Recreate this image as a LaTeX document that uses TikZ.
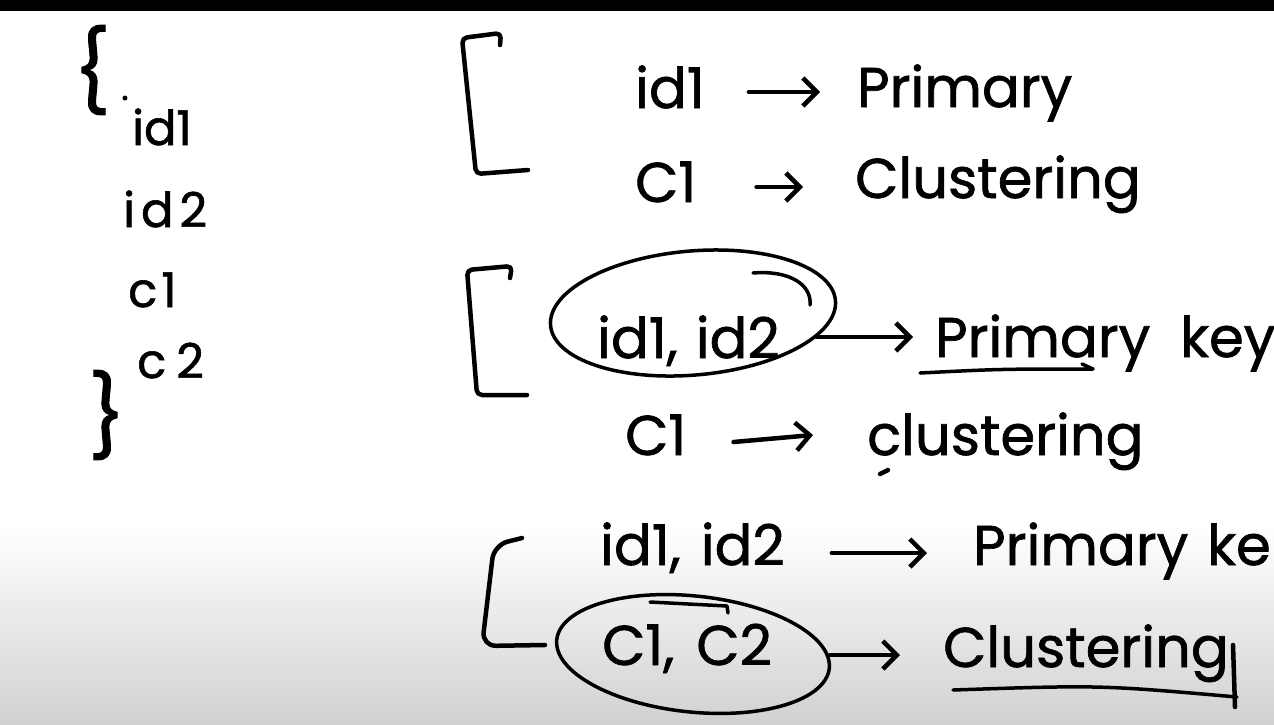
\documentclass[tikz,border=0pt]{standalone}
\usepackage{fontspec}
\setmainfont{Poppins}[FakeBold=1.2]
\usetikzlibrary{arrows.meta}
\begin{document}
\begin{tikzpicture}[x=1pt,y=-1pt,
  pen/.style={line width=4.5pt, line cap=round, line join=round},
  loop/.style={line width=3.5pt, line cap=round, line join=round},
  txt/.style={inner sep=0pt, anchor=base west, font=\fontsize{56}{60}\selectfont},
  lefttxt/.style={inner sep=0pt, anchor=base west, font=\fontsize{48}{50}\selectfont},
  bracetxt/.style={inner sep=0pt, anchor=center, font=\fontsize{80}{84}\selectfont},
  harrow/.style={pen, -{Straight Barb[length=14pt,width=28pt,line width=4.5pt]}},
]
\fill[white] (0,0) rectangle (1274,724);
\useasboundingbox (0,0) rectangle (1274,724);
\fill[black] (0,0) rectangle (1274,11);
\shade[top color=white,bottom color=black!18] (0,527) rectangle (1274,724);

% left column
\node[bracetxt] (lb) at (92,70) {\{};
\fill (125,98) circle (2.5);
\node[lefttxt] (l1) at (132,145) {id1};
\node[lefttxt] (l2) at (123,227) {i\kern6pt d\kern6pt 2};
\node[lefttxt] (l3) at (128,307) {c\kern4pt 1};
\node[lefttxt] (l4) at (137,378) {c\kern10pt 2};
\node[bracetxt] (rb) at (107,415) {\}};

% block 1
\draw[pen, rounded corners=5pt] (500,45) -- (501,33) -- (462,38) -- (476,174) -- (528,170);
\node[txt] (r1a) at (635,108) {id1};
\node[txt] (r1b) at (857,107) {Primary};
\node[txt] (r2a) at (635,202) {C1};
\node[txt] (r2b) at (855,198) {Clustering};
\draw[harrow] ([xshift=44pt,yshift=16pt]r1a.base east) -- ([xshift=-37pt,yshift=15pt]r1b.base west);
\draw[harrow] ([xshift=60pt,yshift=15pt]r2a.base east) -- ([xshift=-52pt,yshift=11pt]r2b.base west);

% block 2
\draw[pen, rounded corners=5pt] (510,278) -- (512,266) -- (467,270) -- (477,395) -- (527,395);
\node[txt] (r3a) at (597,358) {id1,\kern18pt id2};
\draw[loop, rotate around={5:(693,313)}] (693,313) ellipse [x radius=143, y radius=62];
\draw[loop] (753,273) .. controls (790,270) and (812,285) .. (810,305);
\node[txt] (r3b) at (935,357) {Primary};
\node[txt] (r3c) at (1180,357) {key};
\draw[loop] (920,373) .. controls (1000,369) .. (1093,369) -- (1082,364);
\draw[harrow] ([xshift=37pt,yshift=21pt]r3a.base east) -- ([xshift=-22pt,yshift=20pt]r3b.base west);
\node[txt] (r4a) at (625,455) {C1};
\node[txt] (r4b) at (867,455) {clustering};
\draw[pen] (880,474) -- (888,470);
\draw[harrow] ([xshift=47pt,yshift=13pt]r4a.base east) -- ([xshift=-54pt,yshift=20pt]r4b.base west);

% block 3
\draw[pen, rounded corners=14pt] (522,538) -- (494,545) -- (482,646) -- (545,645);
\node[txt] (r5a) at (600,565) {id1,\kern20pt id2};
\node[txt] (r5b) at (973,565) {Primary};
\node[txt] (r5c) at (1207,565) {ke};
\draw[harrow] ([xshift=47pt,yshift=12pt]r5a.base east) -- ([xshift=-46pt,yshift=12pt]r5b.base west);
\draw[loop, rotate around={-6:(693,654)}] (693,654) ellipse [x radius=137, y radius=58];
\draw[loop] (650,602) -- (727,606) -- (728,613);
\node[txt] (r6a) at (602,665) {C1,\kern22pt C2};
\node[txt] (r6b) at (943,667) {Clustering};
\draw[harrow] ([xshift=58pt,yshift=10pt]r6a.base east) -- ([xshift=-43pt,yshift=12pt]r6b.base west);
\draw[loop] (953,690) .. controls (1100,685) .. (1237,697);
\draw[pen] (1233,645) -- (1235,707);
\end{tikzpicture}
\end{document}
